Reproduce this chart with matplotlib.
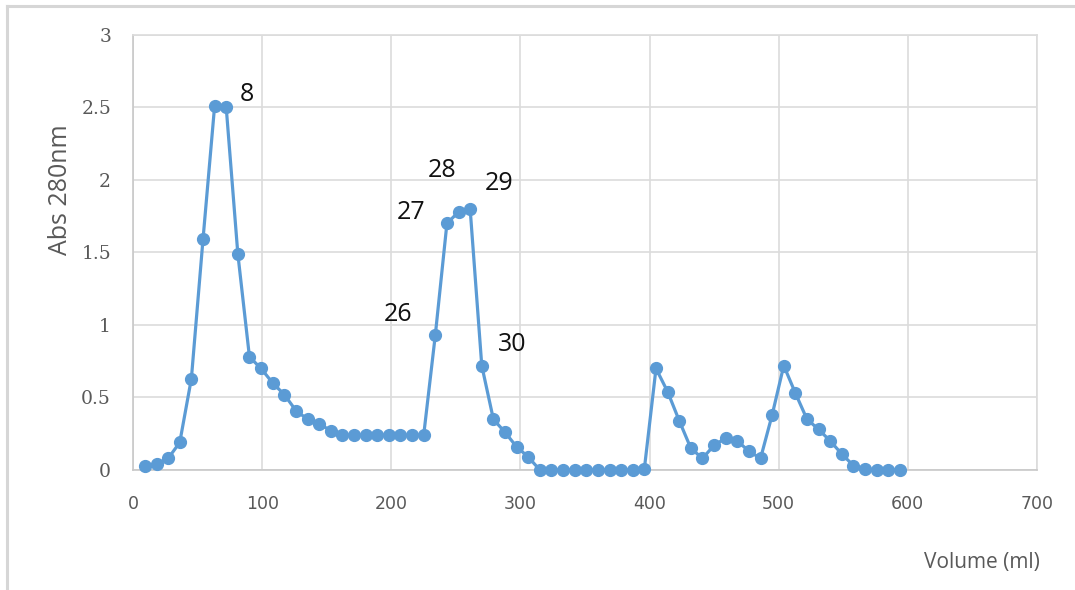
import matplotlib
matplotlib.use("Agg")
import matplotlib.pyplot as plt
from matplotlib.lines import Line2D

# fraction numbers (9 ml per fraction) and absorbance readings
fractions = list(range(1, 67))
volume_ml = [9 * n for n in fractions]
abs_280 = [
    0.03, 0.04, 0.08, 0.19, 0.63, 1.59, 2.51, 2.50, 1.49, 0.78,
    0.70, 0.60, 0.52, 0.41, 0.35, 0.32, 0.27, 0.24, 0.24, 0.24,
    0.24, 0.24, 0.24, 0.24, 0.24, 0.93, 1.70, 1.78, 1.80, 0.72,
    0.35, 0.26, 0.16, 0.09, 0.0, 0.0, 0.0, 0.0, 0.0, 0.0,
    0.0, 0.0, 0.0, 0.01, 0.70, 0.54, 0.34, 0.15, 0.08, 0.17,
    0.22, 0.20, 0.13, 0.08, 0.38, 0.72, 0.53, 0.35, 0.28, 0.20,
    0.11, 0.03, 0.01, 0.0, 0.0, 0.0,
]

# fractions that get a number next to them, with label offsets in points
labelled = [8, 26, 27, 28, 29, 30]
label_offsets = {8: (15, 9), 26: (-27, 15), 27: (-26, 8), 28: (-12, 30), 29: (21, 18), 30: (22, 15)}

x_ticks = [0, 100, 200, 300, 400, 500, 600, 700]
y_ticks = [0, 0.5, 1, 1.5, 2, 2.5, 3]

blue = "#5b9bd5"
grid_c = "#dcdcdc"
text_c = "#595959"

fig = plt.figure(figsize=(10.75, 5.9), dpi=100)
ax = fig.add_axes([0.124, 0.2034, 0.8404, 0.7373])

ax.plot(volume_ml, abs_280, color=blue, lw=2.3, marker="o", ms=8.5,
        markerfacecolor=blue, markeredgecolor=blue, zorder=3, clip_on=False)

for n in labelled:
    i = fractions.index(n)
    ax.annotate(str(n), (volume_ml[i], abs_280[i]), xytext=label_offsets[n],
                textcoords="offset points", ha="center", va="center",
                fontsize=18, color="#111111", family="Open Sans")

ax.set_xlim(0, 700)
ax.set_ylim(0, 3)
ax.set_xticks(x_ticks)
ax.set_yticks(y_ticks)
ax.set_xticklabels([str(v) for v in x_ticks], family="DejaVu Sans",
                   fontsize=12.5, color=text_c)
ax.set_yticklabels(["0", "0.5", "1", "1.5", "2", "2.5", "3"], family="DejaVu Serif",
                   fontsize=13.5, color=text_c)
ax.tick_params(length=0, pad=16)
ax.tick_params(axis="x", pad=18)
ax.grid(True, color=grid_c, lw=1.2)
ax.set_axisbelow(True)
for side in ["top", "right"]:
    ax.spines[side].set_color(grid_c)
    ax.spines[side].set_linewidth(1.2)
for side in ["left", "bottom"]:
    ax.spines[side].set_color("#c8c8c8")
    ax.spines[side].set_linewidth(1.2)

fig.text(0.056, 0.678, "Abs 280nm", rotation=90, ha="center", va="center",
         fontsize=18, color=text_c, family="Open Sans")
fig.text(0.967, 0.046, "Volume (ml)", ha="right", va="center",
         fontsize=15, color=text_c, family="Open Sans")

# chart frame, only left and top edges show
fig.add_artist(Line2D([0.0065, 0.0065], [0, 0.99], color="#d6d6d6", lw=2.2))
fig.add_artist(Line2D([0.0065, 1.0], [0.99, 0.99], color="#d6d6d6", lw=2.2))

fig.savefig("out.png", dpi=100)
